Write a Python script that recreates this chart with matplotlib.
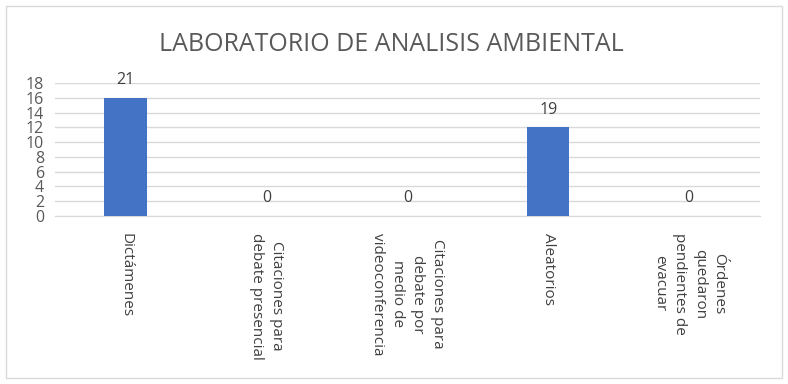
import matplotlib.pyplot as plt
from matplotlib.patches import Rectangle
import numpy as np

categories = [
    "Dictámenes",
    "Citaciones para\ndebate presencial",
    "Citaciones para\ndebate por\nmedio de\nvideoconferencia",
    "Aleatorios",
    "Órdenes\nquedaron\npendientes de\nevacuar",
]
bar_heights = [16, 0, 0, 12, 0]
bar_labels = ["21", "0", "0", "19", "0"]
yticks = [0, 2, 4, 6, 8, 10, 12, 14, 16, 18]

plt.rcParams['font.family'] = ['Open Sans', 'DejaVu Sans']

fig = plt.figure(figsize=(7.88, 3.84), dpi=100)
ax = fig.add_axes([0.070, 0.4375, 0.894, 0.3465])

x = np.arange(len(categories))
bars = ax.bar(x, bar_heights, width=0.3, color='#4472c4', zorder=3)

# data labels (as shown in the original chart)
for xi, h, lab in zip(x, bar_heights, bar_labels):
    ax.text(xi, h + 1.3, lab, ha='center', va='bottom', fontsize=11.5, color='#404040')

ax.set_xlim(-0.5, len(categories) - 0.5)
ax.set_ylim(0, 18)
ax.set_yticks(yticks)
ax.set_yticklabels([str(t) for t in yticks], fontsize=11.5, color='#595959')
ax.tick_params(axis='y', length=0, pad=8)
ax.tick_params(axis='x', length=0, pad=12)
ax.set_xticks(x)
ax.set_xticklabels(categories, rotation=-90, fontsize=11, color='#404040',
                   va='top', ha='center', multialignment='center', linespacing=1.45)

ax.grid(axis='y', color='#d9d9d9', linewidth=1, zorder=0)
for s in ['top', 'right', 'left']:
    ax.spines[s].set_visible(False)
ax.spines['bottom'].set_color('#d9d9d9')

fig.text(0.497, 0.885, "LABORATORIO DE ANALISIS AMBIENTAL", ha='center', va='center',
         fontsize=18, color='#595959')

# chart border
fig.patches.append(Rectangle((6 / 788, 6 / 384), 776 / 788, 372 / 384, transform=fig.transFigure,
                             fill=False, edgecolor='#d9d9d9', linewidth=1))

plt.savefig('out.png', dpi=100)
plt.close()
